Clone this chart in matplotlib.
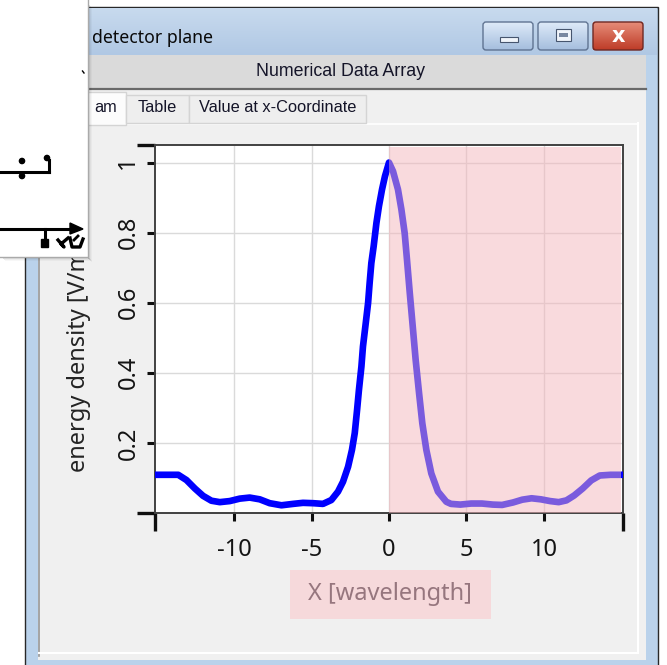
import numpy as np
import matplotlib
matplotlib.use("Agg")
import matplotlib.pyplot as plt
from matplotlib.patches import Rectangle, FancyBboxPatch, Circle, Polygon

# ---- data: energy density profile in the detector plane ----
x_wl = [-15.1, -14.3, -13.6, -13.07, -12.53, -12.0, -11.46, -10.92, -10.28, -9.63,
        -8.99, -8.34, -7.70, -6.94, -6.19, -5.55, -4.90, -4.26, -3.72, -3.29,
        -2.97, -2.64, -2.39, -2.21, -2.06, -1.94, -1.78, -1.68, -1.50, -1.35,
        -1.25, -1.14, -0.99, -0.81, -0.65, -0.45, -0.26, 0.0,
        0.26, 0.58, 0.80, 1.01, 1.16, 1.34, 1.55, 1.72, 1.94, 2.15,
        2.41, 2.73, 3.16, 3.70, 4.0, 4.6, 5.3, 6.0, 6.7, 7.3,
        8.0, 8.6, 9.2, 9.8, 10.4, 10.95, 11.45, 11.95, 12.5, 13.05,
        13.6, 14.3, 15.1]
energy = [0.109, 0.109, 0.109, 0.094, 0.070, 0.049, 0.035, 0.031, 0.034, 0.041,
          0.044, 0.039, 0.028, 0.022, 0.026, 0.029, 0.028, 0.026, 0.037, 0.061,
          0.089, 0.132, 0.180, 0.228, 0.294, 0.351, 0.418, 0.475, 0.542, 0.599,
          0.656, 0.713, 0.761, 0.828, 0.875, 0.923, 0.961, 1.0,
          0.975, 0.923, 0.866, 0.799, 0.723, 0.628, 0.523, 0.437, 0.342, 0.256,
          0.180, 0.113, 0.061, 0.032, 0.026, 0.024, 0.027, 0.027, 0.024, 0.023,
          0.030, 0.038, 0.042, 0.039, 0.034, 0.031, 0.036, 0.050, 0.070, 0.093,
          0.107, 0.109, 0.109]

x_ticks = [-10, -5, 0, 5, 10]
y_ticks = [0.2, 0.4, 0.6, 0.8, 1.0]
y_ticklabels = ["0.2", "0.4", "0.6", "0.8", "1"]
x_range = (-15.1, 15.1)
y_range = (0.0, 1.05)
highlight_start = 0.0

title_text = "detector plane"
header_text = "Numerical Data Array"
tab_labels = ["am", "Table", "Value at x-Coordinate"]
x_label = "X [wavelength]"
y_label = "energy density [V/m]"

W, H = 667, 665
UI = "Noto Sans"


def c(r, g, b):
    return (r / 255, g / 255, b / 255)


fig = plt.figure(figsize=(W / 100, H / 100), dpi=100)
fig.patch.set_facecolor("white")

# ---- window chrome, drawn in pixel coordinates ----
bg = fig.add_axes([0, 0, 1, 1], zorder=0)
bg.set_xlim(0, W)
bg.set_ylim(H, 0)
bg.axis("off")

# outer frame
bg.add_patch(Rectangle((25, 7), 633, 660, facecolor=c(186, 210, 235),
                       edgecolor=c(40, 40, 40), lw=1.0))
# title bar gradient
grad = np.linspace(0, 1, 64)[:, None]
top, bot = np.array(c(200, 218, 238)), np.array(c(176, 200, 228))
img = top + (bot - top) * grad[..., None]
img = np.repeat(img, 2, axis=1)
bg.imshow(img, extent=(26, 657, 55, 8), aspect="auto", zorder=1)
bg.text(92, 38, title_text, fontsize=12.7, family=UI, color=c(10, 10, 10),
        va="center", ha="left", zorder=3)


def button(x0, x1, face_top, face_bot, edge):
    g = face_top + (face_bot - face_top) * np.linspace(0, 1, 32)[:, None, None]
    g = np.repeat(g, 2, axis=1)
    bg.imshow(g, extent=(x0, x1, 50, 22), aspect="auto", zorder=2)
    bg.add_patch(FancyBboxPatch((x0, 22), x1 - x0, 28,
                                boxstyle="round,pad=0,rounding_size=3",
                                facecolor="none", edgecolor=edge, lw=1.0, zorder=3))


blue_top, blue_bot = np.array(c(222, 234, 248)), np.array(c(165, 190, 222))
button(483, 533, blue_top, blue_bot, c(95, 115, 145))
button(538, 588, blue_top, blue_bot, c(95, 115, 145))
button(593, 643, np.array(c(230, 140, 120)), np.array(c(190, 60, 40)), c(110, 40, 35))
bg.add_patch(Rectangle((500, 37), 18, 5, facecolor=c(240, 244, 250),
                       edgecolor=c(70, 85, 110), lw=0.8, zorder=4))
bg.add_patch(Rectangle((556, 29), 15, 12, facecolor=c(240, 244, 250),
                       edgecolor=c(70, 85, 110), lw=0.8, zorder=4))
bg.add_patch(Rectangle((559, 33), 9, 4, facecolor=c(120, 135, 160),
                       edgecolor="none", zorder=5))
bg.text(618, 36, "x", fontsize=15, fontweight="bold", family="DejaVu Sans",
        color="white", ha="center", va="center", zorder=5)

# header strip
bg.add_patch(Rectangle((38, 55), 608, 33, facecolor=c(218, 218, 218),
                       edgecolor="none", zorder=1))
bg.plot([38, 646], [88.5, 88.5], color=c(105, 105, 105), lw=1.6, zorder=2)
bg.text(340, 71, header_text, fontsize=12.8, family="Liberation Sans",
        color=c(20, 20, 40), ha="center", va="center", zorder=3)

# client area
bg.add_patch(Rectangle((38, 90), 608, 570, facecolor=c(240, 240, 240),
                       edgecolor="none", zorder=1))
bg.plot([39, 39], [123, 656], color=c(150, 150, 150), lw=1.2, zorder=2)
bg.plot([39, 638], [653, 653], color="white", lw=1.5, zorder=2)
bg.plot([638, 638], [123, 653], color="white", lw=1.5, zorder=2)
bg.plot([40, 637], [124, 124], color="white", lw=1.2, zorder=2)

# tabs
tabs = [(70, 126, 92, 125, c(252, 252, 252)),
        (126, 189, 95, 123, c(238, 238, 238)),
        (189, 366, 95, 123, c(238, 238, 238))]
for (x0, x1, y0, y1, fc), lab in zip(tabs, tab_labels):
    bg.add_patch(Rectangle((x0, y0), x1 - x0, y1 - y0, facecolor=fc,
                           edgecolor=c(212, 212, 212), lw=1.0, zorder=2))
    bg.text((x0 + x1) / 2 + (8 if lab == "am" else 0), 108, lab, fontsize=11.8,
            family="Liberation Sans", color=c(20, 20, 40),
            ha="center", va="center", zorder=3)

# axis titles
bg.text(79, 472, y_label, rotation=90, fontsize=17, family=UI,
        color=c(35, 35, 35), ha="center", va="bottom", zorder=3)
bg.add_patch(Rectangle((290, 570), 201, 49, facecolor=c(246, 217, 219),
                       edgecolor="none", zorder=2))
bg.text(390, 594, x_label, fontsize=17, family=UI, color=c(150, 118, 126),
        ha="center", va="center", zorder=3)

# ---- plot ----
ax = fig.add_axes([155 / W, 1 - 513 / H, (623 - 155) / W, (513 - 145) / H], zorder=1)
ax.set_facecolor("white")
ax.set_xlim(*x_range)
ax.set_ylim(*y_range)
ax.plot(x_wl, energy, color=c(0, 0, 255), lw=4.8, solid_capstyle="round",
        solid_joinstyle="round", zorder=3)
ax.axvspan(highlight_start, 14.95, ymin=0, ymax=0.994,
           color=c(245, 182, 188), alpha=0.5, lw=0, zorder=4)

ax.set_xticks(x_ticks)
ax.set_xticklabels([str(t) for t in x_ticks])
ax.set_yticks(y_ticks)
ax.set_yticklabels(y_ticklabels, rotation=90, va="center")
ax.set_xticks(list(x_range), minor=True)
ax.set_yticks(list(y_range), minor=True)
ax.grid(True, which="major", color=c(218, 218, 218), lw=1.0, zorder=0)
ax.set_axisbelow(True)
ax.tick_params(which="major", direction="out", length=6, width=2.2,
               color=c(15, 15, 15), labelsize=17, labelcolor=c(20, 20, 20))
ax.tick_params(axis="x", which="major", pad=12)
ax.tick_params(axis="y", which="major", pad=4.5)
ax.tick_params(which="minor", direction="out", length=13, width=2.4,
               color=c(15, 15, 15))
for lab in ax.get_xticklabels() + ax.get_yticklabels():
    lab.set_family(UI)
for side in ["left", "bottom", "top", "right"]:
    ax.spines[side].set_color(c(65, 65, 65))
    ax.spines[side].set_linewidth(1.4)

# ---- floating panel in the top-left corner ----
ov = fig.add_axes([0, 0, 1, 1], zorder=5)
ov.set_xlim(0, W)
ov.set_ylim(H, 0)
ov.axis("off")
ov.patch.set_alpha(0)
for i, a in enumerate([0.18, 0.12, 0.07, 0.03]):
    ov.add_patch(Rectangle((88 + i, 4 + i), 1.2, 255, facecolor="black",
                           alpha=a, edgecolor="none"))
    ov.add_patch(Rectangle((2 + i, 257 + i), 87, 1.2, facecolor="black",
                           alpha=a, edgecolor="none"))
ov.add_patch(Rectangle((-2, -2), 90, 259, facecolor="white",
                       edgecolor=c(170, 170, 170), lw=1.0))
ink = "black"
ov.plot([82.5, 84], [71, 73], color=ink, lw=1.0)
ov.plot([0, 49], [172, 172], color=ink, lw=2.2)
ov.plot([49, 49], [160, 172], color=ink, lw=2.2)
for px, py in [(22, 161), (47, 158), (22, 176)]:
    ov.add_patch(Circle((px, py), 2.6, color=ink))
ov.plot([0, 74], [229, 229], color=ink, lw=2.2)
ov.add_patch(Polygon([[70, 223], [83, 229], [70, 234]], closed=True, color=ink))
ov.plot([45, 45], [229, 240], color=ink, lw=2.2)
ov.add_patch(Rectangle((41, 239), 7, 8, color=ink))
ov.plot([58, 64, 61, 68], [240, 247, 244, 238], color=ink, lw=2.4)
ov.plot([70, 72, 80, 83], [238, 247, 247, 239], color=ink, lw=2.4)
ov.plot([74, 78], [240, 236], color=ink, lw=2.0)

fig.savefig("out.png", dpi=100)
